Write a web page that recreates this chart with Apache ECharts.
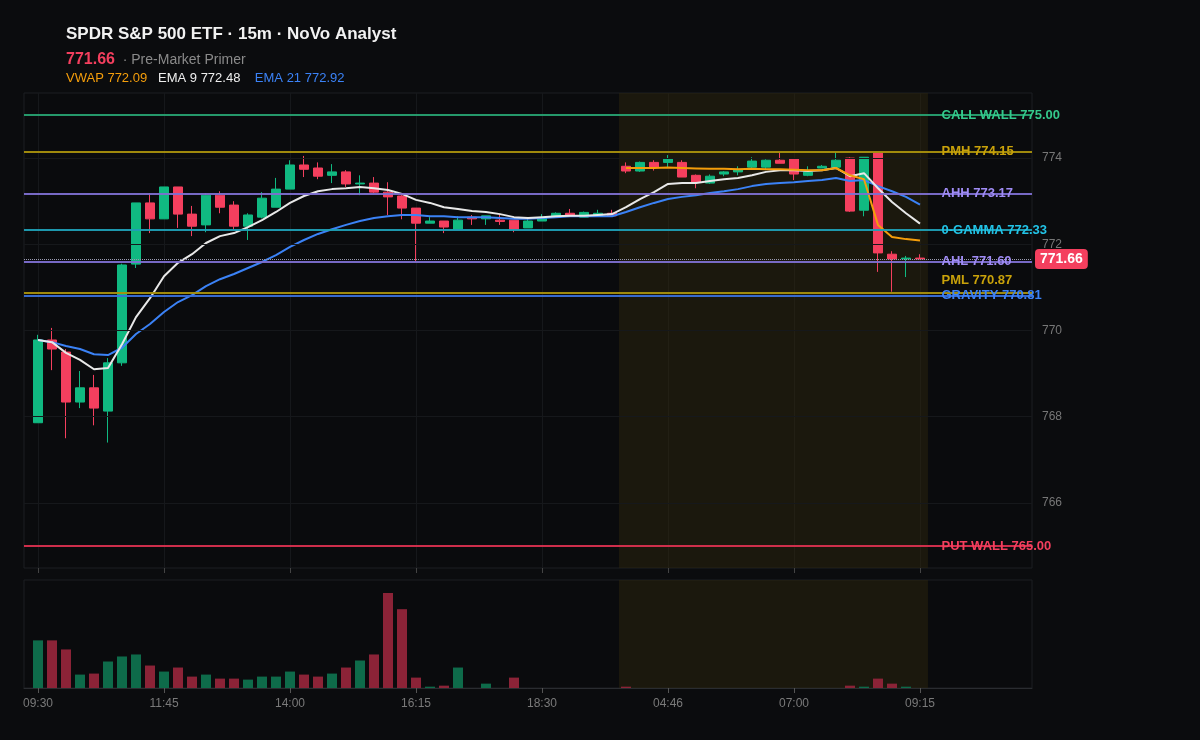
<!DOCTYPE html>
<html><head><meta charset="utf-8">
<script src="https://cdn.jsdelivr.net/npm/echarts@6/dist/echarts.min.js"></script>
<style>html,body{margin:0;background:#0b0c0e}#c{width:1200px;height:740px}</style>
</head><body><div id="c"></div>
<script>
// [open, close, low, high] per 15m bar
const candles = [
[767.86,769.78,767.86,769.90],[769.78,769.57,769.08,770.06],[769.50,768.34,767.50,769.57],[768.34,768.67,768.20,769.06],
[768.67,768.20,767.80,768.97],[768.13,769.25,767.40,769.36],[769.25,771.52,769.18,771.55],[771.54,772.96,771.45,772.96],
[772.96,772.59,772.26,773.19],[772.59,773.33,772.59,773.33],[773.33,772.70,772.38,773.33],[772.70,772.42,772.19,772.89],
[772.45,773.14,772.28,773.19],[773.14,772.86,772.72,773.23],[772.91,772.42,772.33,773.00],[772.42,772.68,772.10,772.72],
[772.63,773.07,772.60,773.21],[772.86,773.28,772.86,773.54],[773.28,773.84,773.28,773.95],[773.84,773.74,773.56,774.05],
[773.77,773.58,773.51,773.90],[773.60,773.68,773.42,773.86],[773.68,773.40,773.33,773.72],[773.40,773.42,773.14,773.60],
[773.42,773.21,773.19,773.56],[773.21,773.10,772.68,773.44],[773.12,772.84,772.58,773.14],[772.84,772.49,771.59,772.84],
[772.49,772.54,772.49,772.63],[772.54,772.40,772.26,772.54],[772.35,772.56,772.35,772.65],[772.63,772.59,772.45,772.68],
[772.59,772.66,772.45,772.66],[772.56,772.53,772.45,772.68],[772.56,772.35,772.28,772.56],[772.38,772.54,772.38,772.60],
[772.54,772.61,772.54,772.70],[772.63,772.72,772.63,772.74],[772.72,772.66,772.66,772.82],[772.63,772.74,772.63,772.76],
[772.66,772.72,772.66,772.80],[772.72,772.66,772.66,772.80],[773.81,773.70,773.65,773.90],[773.70,773.90,773.68,773.92],
[773.90,773.79,773.71,773.95],[773.90,773.98,773.79,774.07],[773.90,773.56,773.56,773.95],[773.60,773.44,773.30,773.62],
[773.42,773.58,773.40,773.62],[773.63,773.68,773.58,773.70],[773.68,773.74,773.60,773.81],[773.79,773.93,773.77,774.02],
[773.79,773.95,773.72,773.97],[773.95,773.88,773.88,774.14],[773.98,773.63,773.49,773.98],[773.60,773.68,773.58,773.81],
[773.77,773.81,773.77,773.84],[773.79,773.95,773.79,774.14],[774.00,772.77,772.75,774.02],[772.79,774.02,772.65,774.02],
[774.12,771.80,771.36,774.12],[771.77,771.66,770.90,771.84],[771.66,771.68,771.24,771.73],[771.68,771.66,771.66,771.77]
];
const volumes = [142,142,115,40,43,79,94,100,67,49,61,34,40,28,28,25,34,34,49,40,34,43,61,82,100,283,235,31,4,7,61,0,13,0,31,
0,0,0,0,0,0,0,4,0,0,0,0,0,0,0,0,0,0,0,0,0,0,0,7,4,28,13,4,0];
const ema9 = [769.78,769.73,769.48,769.32,769.10,769.13,769.68,770.31,770.75,771.26,771.57,771.77,772.03,772.19,772.26,772.40,
772.56,772.75,772.96,773.12,773.23,773.28,773.30,773.33,773.30,773.26,773.17,773.03,772.96,772.86,772.82,772.77,772.75,772.70,
772.63,772.61,772.63,772.65,772.66,772.66,772.68,772.70,772.86,773.05,773.21,773.40,773.42,773.42,773.47,773.51,773.54,773.60,
773.68,773.72,773.72,773.70,773.72,773.77,773.58,773.65,773.30,772.98,772.72,772.48];
const ema21 = [769.78,769.73,769.64,769.57,769.45,769.43,769.60,769.92,770.15,770.43,770.66,770.82,771.03,771.19,771.31,771.45,
771.59,771.75,771.94,772.10,772.24,772.35,772.45,772.54,772.61,772.65,772.68,772.68,772.65,772.65,772.63,772.63,772.63,772.61,
772.59,772.59,772.61,772.63,772.65,772.65,772.65,772.65,772.75,772.86,772.96,773.05,773.10,773.14,773.19,773.23,773.28,773.35,
773.40,773.42,773.44,773.47,773.49,773.54,773.47,773.49,773.35,773.23,773.10,772.92];
const vwap = [null,null,null,null,null,null,null,null,null,null,null,null,null,null,null,null,null,null,null,null,null,null,null,null,
null,null,null,null,null,null,null,null,null,null,null,null,null,null,null,null,null,null,
773.77,773.77,773.77,773.78,773.77,773.76,773.75,773.75,773.74,773.75,773.74,773.74,773.73,773.72,773.72,773.77,773.60,773.51,772.45,772.17,772.12,772.09];
const tickLabels = ['09:30','11:45','14:00','16:15','18:30','04:46','07:00','09:15'];
const levelNames = ['CALL WALL','PMH','AHH','0-GAMMA','AHL','PML','GRAVITY','PUT WALL'];
const levelValues = [775.00,774.15,773.17,772.33,771.60,770.87,770.81,765.00];
const levelLineColors = ['#27a070','#a8900d','#7d6fd0','#1f9fb5','#7d6fd0','#a8900d','#3a6fd8','#d9304f'];
const levelTextColors = ['#34c98c','#c9a20a','#a08cf5','#22c3e6','#a08cf5','#c9a20a','#3b82f6','#f43f5e'];
const yTicks = [766,768,770,772,774];
const lastPrice = 771.66;
const session = [41.5, 63.57];

const UP='#10b981', DN='#f43f5e', VUP='#0e6b4a', VDN='#8b2337';
const N = candles.length;
const TRAIL = 8;
const cats = ['-1'].concat(candles.map((_, i) => String(i)));
for (let k = 0; k < TRAIL; k++) cats.push('t' + k);
const pad = a => ['-'].concat(a.map(v => v == null ? '-' : v));
const labelAt = {}; tickLabels.forEach((t, k) => labelAt[1 + 9 * k] = t);
const tickFn = (i) => labelAt[i] !== undefined;
const font = 'Liberation Sans, Arial, sans-serif';

const chart = echarts.init(document.getElementById('c'));
chart.setOption({
  backgroundColor: '#0b0c0e',
  animation: false,
  textStyle: { fontFamily: font },
  graphic: [
    { type: 'text', left: 66, top: 26, style: { text: 'SPDR S&P 500 ETF · 15m · NoVo Analyst', fill: '#f2f2f2', font: 'bold 17px ' + font } },
    { type: 'text', left: 66, top: 52, style: { text: '{p|' + lastPrice.toFixed(2) + '}{s|  · Pre-Market Primer}',
      rich: { p: { fill: '#f43f5e', font: 'bold 16px ' + font }, s: { fill: '#8a8a8a', font: '14px ' + font } } } },
    { type: 'text', left: 66, top: 72, style: { text: '{a|VWAP 772.09}{w|   EMA 9 772.48}{b|    EMA 21 772.92}',
      rich: { a: { fill: '#f59e0b', font: '13px ' + font }, w: { fill: '#eeeeee', font: '13px ' + font }, b: { fill: '#3b82f6', font: '13px ' + font } } } }
  ],
  grid: [
    { left: 24, right: 168, top: 93, height: 475, show: true, borderColor: '#1d1f23', backgroundColor: '#0a0b0d' },
    { left: 24, right: 168, top: 580, height: 108, show: true, borderColor: '#1d1f23', backgroundColor: '#0a0b0d' }
  ],
  xAxis: [
    { type: 'category', data: cats, gridIndex: 0, boundaryGap: false, axisLine: { show: false },
      axisTick: { show: true, interval: tickFn, lineStyle: { color: '#444' }, length: 5 }, axisLabel: { show: false },
      splitLine: { show: true, interval: tickFn, lineStyle: { color: '#16181b' } } },
    { type: 'category', data: cats, gridIndex: 1, boundaryGap: false, axisLine: { lineStyle: { color: '#2a2c30' } },
      axisTick: { show: true, interval: tickFn, lineStyle: { color: '#555' }, length: 5 },
      axisLabel: { interval: tickFn, formatter: (v, i) => labelAt[i] || '', color: '#7a7a7a', fontSize: 12, margin: 10 },
      splitLine: { show: false } },
    { type: 'value', gridIndex: 0, min: -1, max: 71, show: false },
    { type: 'value', gridIndex: 1, min: -1, max: 71, show: false }
  ],
  yAxis: [
    { type: 'value', gridIndex: 0, min: 764.49, max: 775.51, position: 'right', axisLabel: { show: false }, splitLine: { show: false }, axisLine: { show: false }, axisTick: { show: false } },
    { type: 'value', gridIndex: 1, min: 0, max: 322, show: false, splitLine: { show: false } }
  ],
  series: [
    { type: 'line', xAxisIndex: 2, yAxisIndex: 0, data: [[-1, 770]], symbol: 'none', silent: true,
      markArea: { silent: true, itemStyle: { color: 'rgba(48,40,14,0.45)' }, data: [[{ xAxis: session[0] }, { xAxis: session[1] }]] } },
    { type: 'line', xAxisIndex: 3, yAxisIndex: 1, data: [[-1, 0]], symbol: 'none', silent: true,
      markArea: { silent: true, itemStyle: { color: 'rgba(48,40,14,0.45)' }, data: [[{ xAxis: session[0] }, { xAxis: session[1] }]] } },
    { type: 'line', xAxisIndex: 0, yAxisIndex: 0, data: [], silent: true,
      markLine: { symbol: 'none', silent: true, lineStyle: { color: '#16181b', type: 'solid', width: 1 },
        label: { position: 'end', color: '#777', fontSize: 12, distance: 10, formatter: p => String(p.value) },
        data: yTicks.map(v => ({ yAxis: v })) } },
    { type: 'line', xAxisIndex: 0, yAxisIndex: 0, data: [], silent: true,
      markLine: { symbol: 'none', silent: true, label: { show: false },
        data: levelValues.map((v, i) => ({ yAxis: v, lineStyle: { color: levelLineColors[i], width: 2, type: 'solid', opacity: 0.95 } })) } },
    { type: 'candlestick', xAxisIndex: 0, yAxisIndex: 0, barWidth: 9,
      data: [['-', '-', '-', '-']].concat(candles),
      itemStyle: { color: UP, color0: DN, borderColor: UP, borderColor0: DN, borderWidth: 1 } },
    { type: 'line', xAxisIndex: 0, yAxisIndex: 0, data: pad(ema21), symbol: 'none', lineStyle: { color: '#3b82f6', width: 2 } },
    { type: 'line', xAxisIndex: 0, yAxisIndex: 0, data: pad(ema9), symbol: 'none', lineStyle: { color: '#e8e8e8', width: 2 } },
    { type: 'line', xAxisIndex: 0, yAxisIndex: 0, data: pad(vwap), symbol: 'none', lineStyle: { color: '#f59e0b', width: 2 } },
    { type: 'line', xAxisIndex: 0, yAxisIndex: 0, data: [], silent: true,
      markLine: { symbol: 'none', silent: true, lineStyle: { color: '#9a9ab0', type: 'dotted', width: 1 },
        label: { position: 'end', distance: 3, formatter: lastPrice.toFixed(2), color: '#fff', fontWeight: 'bold', fontSize: 14,
          backgroundColor: '#f43f5e', padding: [3, 5], borderRadius: 4 },
        data: [{ yAxis: lastPrice }] } },
    { type: 'line', xAxisIndex: 2, yAxisIndex: 0, data: [], silent: true,
      markPoint: { symbol: 'rect', symbolSize: 1, itemStyle: { color: 'rgba(0,0,0,0)' },
        data: levelValues.map((v, i) => ({ coord: [64.5, v],
          label: { show: true, position: 'right', distance: 0, offset: [0, levelNames[i] === 'PML' ? -13 : 0],
            formatter: levelNames[i] + ' ' + v.toFixed(2), color: levelTextColors[i], fontWeight: 'bold', fontSize: 13 } })) } },
    { type: 'bar', xAxisIndex: 1, yAxisIndex: 1, barWidth: 10,
      data: ['-'].concat(volumes.map((v, i) => ({ value: v, itemStyle: { color: candles[i][1] >= candles[i][0] ? VUP : VDN } }))) }
  ]
});
</script></body></html>
